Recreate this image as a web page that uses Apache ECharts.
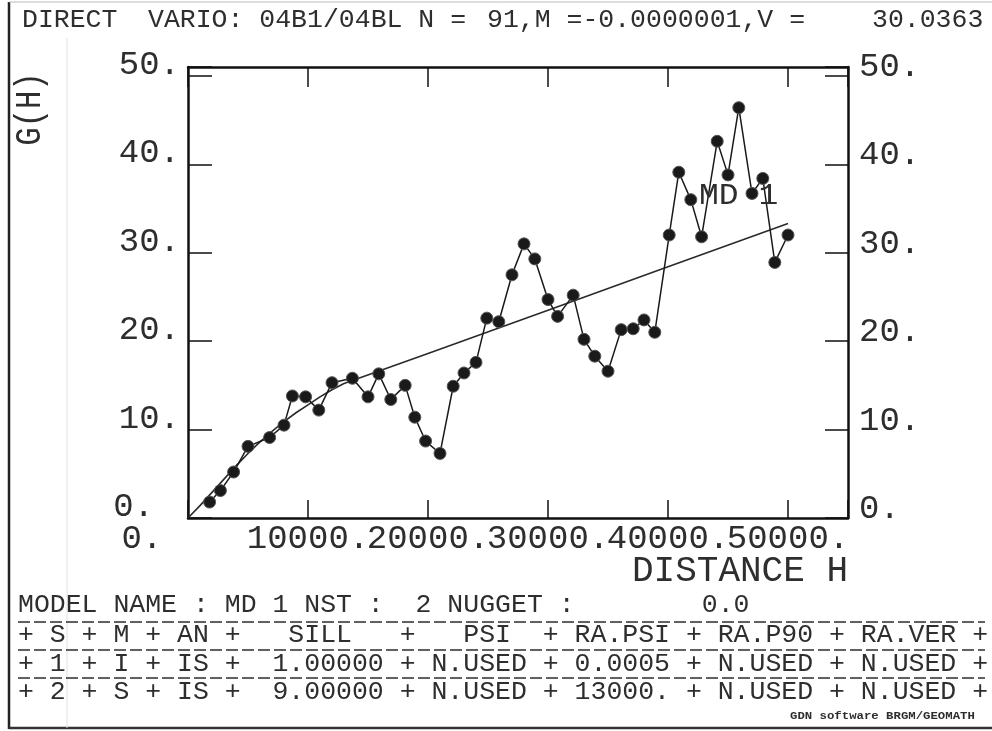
<!DOCTYPE html>
<html><head><meta charset="utf-8">
<script src="https://cdn.jsdelivr.net/npm/echarts@6/dist/echarts.min.js"></script>
<style>html,body{margin:0;padding:0;background:#fff}#c{width:992px;height:731px}</style>
</head><body><div id="c"></div>
<script>
// experimental variogram (lag distance, gamma)
const lagDistance = [1800, 2700, 3800, 5000, 6800, 8000, 8700, 9800, 10900, 12000, 13700, 15000, 15900, 16900, 18100, 18900, 19800, 21000, 22100, 23000, 24000, 24900, 25900, 27000, 28000, 28900, 30000, 30800, 32100, 33000, 33900, 35000, 36100, 37100, 38000, 38900, 40100, 40900, 41900, 42800, 44100, 45000, 45900, 47000, 47900, 48900, 50000];
const gammaValues = [1.8, 3.1, 5.2, 8.1, 9.1, 10.5, 13.8, 13.7, 12.2, 15.3, 15.8, 13.7, 16.3, 13.4, 15.0, 11.4, 8.7, 7.3, 14.9, 16.4, 17.6, 22.6, 22.2, 27.5, 31.0, 29.3, 24.7, 22.8, 25.2, 20.2, 18.3, 16.6, 21.3, 21.4, 22.4, 21.0, 32.0, 39.1, 36.0, 31.8, 42.6, 38.8, 46.4, 36.7, 38.4, 28.9, 32.0];
// fitted model MD 1
const modelDistance = [0, 1000, 2000, 3000, 4000, 5000, 6000, 7000, 8000, 9000, 10000, 11000, 12000, 13000, 20000, 30000, 40000, 50000];
const modelValues = [0, 1.4, 2.9, 4.4, 5.9, 7.3, 8.6, 9.8, 10.9, 11.9, 12.8, 13.7, 14.5, 15.2, 18.6, 23.5, 28.4, 33.3];
const xTickValues = [0, 10000, 20000, 30000, 40000, 50000];
const xTickLabels = ['0.', '10000.', '20000.', '30000.', '40000.', '50000.'];
const yTickValues = [0, 10, 20, 30, 40, 50];
const yTickLabels = ['0.', '10.', '20.', '30.', '40.', '50.'];
const titleParts = ['DIRECT', 'VARIO: 04B1/04BL N =', '91,M =-0.0000001,V =', '30.0363'];
const modelLine = 'MODEL NAME : MD 1 NST :  2 NUGGET :        0.0';
const tableHeader = '+ S + M + AN +   SILL   +   PSI  + RA.PSI + RA.P90 + RA.VER +';
const tableRow1 = '+ 1 + I + IS +  1.00000 + N.USED + 0.0005 + N.USED + N.USED +';
const tableRow2 = '+ 2 + S + IS +  9.00000 + N.USED + 13000. + N.USED + N.USED +';
const footer = 'GDN software BRGM/GEOMATH';

const FONT = 'Liberation Mono';
const INK = '#2e2e2e';

const chart = echarts.init(document.getElementById('c'));

function xFmt(v) {
  const i = xTickValues.indexOf(v);
  if (i < 0) return '';
  return v === 0 ? '{z|' + xTickLabels[i] + '}' : xTickLabels[i];
}
function yFmtLeft(v) {
  const i = yTickValues.indexOf(v);
  if (i < 0) return '';
  return v === 0 ? '{z|' + yTickLabels[i] + '}' : yTickLabels[i];
}
function yFmtRight(v) {
  const i = yTickValues.indexOf(v);
  return i < 0 ? '' : yTickLabels[i];
}

function txt(text, x, y, size, opts) {
  opts = opts || {};
  return {
    type: 'text', x: x, y: y, z: 50,
    rotation: opts.rotation || 0,
    scaleX: opts.scaleX || 1,
    style: {
      text: text, fontFamily: FONT, fontSize: size, fontWeight: opts.weight || 'normal',
      fill: opts.fill || INK,
      align: opts.align || 'left', textAlign: opts.align || 'left',
      verticalAlign: 'middle', textVerticalAlign: 'middle'
    }
  };
}
function hline(x1, x2, y, dash, w, color) {
  return { type: 'line', z: 40, shape: { x1: x1, y1: y, x2: x2, y2: y },
    style: { stroke: color || INK, lineWidth: w || 1.5, lineDash: dash || null } };
}
function vline(x, y1, y2, w, color) {
  return { type: 'line', z: 40, shape: { x1: x, y1: y1, x2: x, y2: y2 },
    style: { stroke: color || INK, lineWidth: w || 1.5 } };
}

const rowScale = 15.9 / (26.5 * 0.6);
const graphics = [
  // frame + paper artifacts
  vline(9, 2, 729, 2.5, '#222'),
  hline(9, 992, 728, null, 2.5, '#333'),
  hline(9, 992, 2, null, 1, '#bbb'),
  vline(67, 38, 728, 1, '#e2e2e2'),
  // title
  txt(titleParts[0], 22, 20, 26.5, { scaleX: rowScale }),
  txt(titleParts[1], 148, 20, 26.5, { scaleX: rowScale }),
  txt(titleParts[2], 487, 20, 26.5, { scaleX: rowScale }),
  txt(titleParts[3], 872, 20, 26.5, { scaleX: rowScale }),
  // axis titles
  txt('G(H)', 30, 109, 36, { rotation: Math.PI / 2, align: 'center', scaleX: 0.85 }),
  txt('DISTANCE H', 632, 571, 36),
  txt('MD 1', 699, 196, 30, { scaleX: 1.1 }),
  // model table
  txt(modelLine, 18, 605, 26.5, { scaleX: rowScale }),
  hline(18, 985, 622, [12, 4], 1.5),
  txt(tableHeader, 18, 635, 26.5, { scaleX: rowScale }),
  hline(18, 985, 650, [12, 4], 1.5),
  txt(tableRow1, 18, 664, 26.5, { scaleX: rowScale }),
  hline(18, 985, 678, [12, 4], 1.5),
  txt(tableRow2, 18, 692, 26.5, { scaleX: rowScale }),
  txt(footer, 790, 716, 11, { weight: 'bold', scaleX: 1.12 })
];

const axisLineStyle = { color: '#111', width: 2.5 };
const tickStyle = { color: '#111', width: 1.5 };

chart.setOption({
  animation: false,
  backgroundColor: '#ffffff',
  grid: { left: 188, right: 144, top: 67, bottom: 213, containLabel: false },
  xAxis: [
    {
      type: 'value', position: 'bottom', min: 0, max: 55000, interval: 10000,
      axisLine: { show: true, onZero: false, lineStyle: axisLineStyle },
      axisTick: { show: true, inside: true, length: 18, lineStyle: tickStyle },
      splitLine: { show: false },
      axisLabel: {
        show: true, margin: 4, formatter: xFmt, color: INK,
        fontFamily: FONT, fontSize: 34,
        rich: { z: { fontFamily: FONT, fontSize: 34, color: INK, padding: [0, 92, 0, 0] } }
      }
    },
    {
      type: 'value', position: 'top', min: 0, max: 55000, interval: 10000,
      axisLine: { show: true, onZero: false, lineStyle: axisLineStyle },
      axisTick: { show: true, inside: true, length: 20, lineStyle: tickStyle },
      splitLine: { show: false }, axisLabel: { show: false }
    }
  ],
  yAxis: [
    {
      type: 'value', position: 'left', min: 0, max: 51, interval: 10,
      axisLine: { show: true, onZero: false, lineStyle: axisLineStyle },
      axisTick: { show: true, inside: true, length: 24, lineStyle: tickStyle },
      splitLine: { show: false },
      axisLabel: {
        show: true, margin: 8, formatter: yFmtLeft, color: INK,
        fontFamily: FONT, fontSize: 34, verticalAlign: 'bottom', lineHeight: 22,
        rich: { z: { fontFamily: FONT, fontSize: 34, color: INK, lineHeight: 22, padding: [0, 26, 0, 0] } }
      }
    },
    {
      type: 'value', position: 'right', min: 0, max: 51, interval: 10,
      axisLine: { show: true, onZero: false, lineStyle: axisLineStyle },
      axisTick: { show: true, inside: true, length: 23, lineStyle: tickStyle },
      splitLine: { show: false },
      axisLabel: {
        show: true, margin: 11, formatter: yFmtRight, color: INK,
        fontFamily: FONT, fontSize: 34, verticalAlign: 'bottom', lineHeight: 18
      }
    }
  ],
  series: [
    {
      name: 'model', type: 'line', xAxisIndex: 0, yAxisIndex: 0,
      data: modelDistance.map((h, i) => [h, modelValues[i]]),
      showSymbol: false, symbol: 'none', smooth: false,
      lineStyle: { color: '#2a2a2a', width: 1.6 }, z: 3
    },
    {
      name: 'experimental', type: 'line', xAxisIndex: 0, yAxisIndex: 0,
      data: lagDistance.map((h, i) => [h, gammaValues[i]]),
      symbol: 'circle', symbolSize: 12, showAllSymbol: true,
      lineStyle: { color: '#1a1a1a', width: 1.5 },
      itemStyle: { color: '#1a1a1a', borderColor: '#555', borderWidth: 1 }, z: 4
    }
  ],
  graphic: graphics
});
</script>
</body></html>
